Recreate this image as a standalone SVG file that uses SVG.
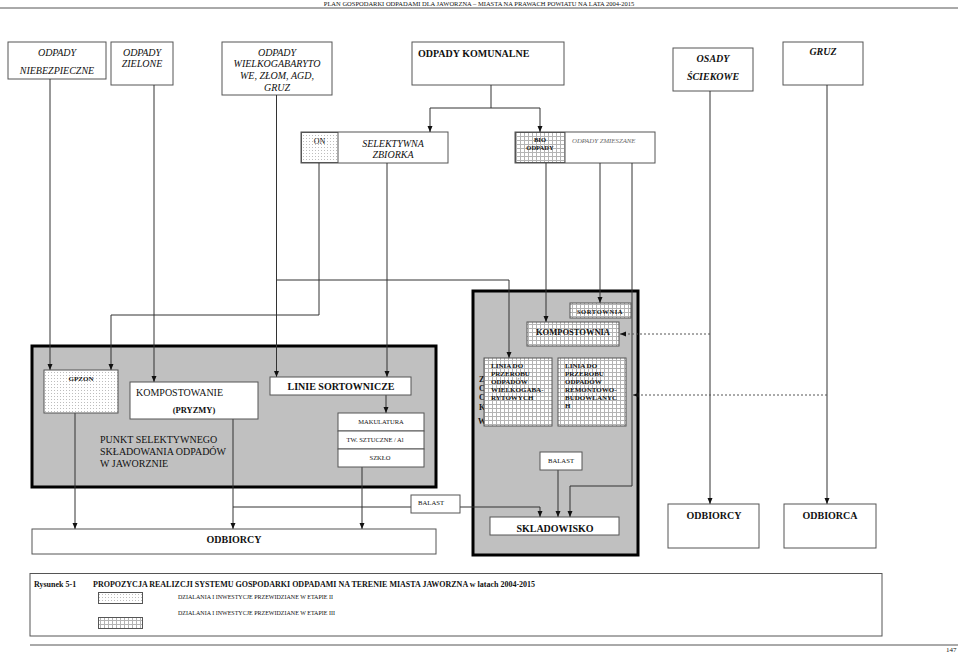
<svg xmlns="http://www.w3.org/2000/svg" width="960" height="655" viewBox="0 0 960 655">
<style>
text{font-family:"Liberation Serif","Times New Roman",serif;fill:#111}
.box{fill:#fff;stroke:#555;stroke-width:1}
.gbox{fill:#c0c0c0;stroke:#000;stroke-width:3}
.ln{fill:none;stroke:#333;stroke-width:1}
.ar{fill:none;stroke:#333;stroke-width:1;marker-end:url(#ah)}
.dash{fill:none;stroke:#555;stroke-width:1;stroke-dasharray:2,2;marker-end:url(#ah)}
.it{font-style:italic}
.b{font-weight:bold}
.c{text-anchor:middle}
</style>
<defs>
<marker id="ah" markerWidth="6" markerHeight="6" refX="6" refY="3" orient="auto" markerUnits="userSpaceOnUse"><path d="M0,0.5L6,3L0,5.5z" fill="#111"/></marker>
<pattern id="dots" width="3" height="3" patternUnits="userSpaceOnUse"><rect width="3" height="3" fill="#fff"/><rect width="1" height="1" fill="#bdbdbd"/></pattern>
<pattern id="grid" width="4" height="4" patternUnits="userSpaceOnUse"><rect width="4" height="4" fill="#fff"/><path d="M0,0.5H4M0.5,0V4" stroke="#b4b4b4" stroke-width="1"/></pattern>
</defs>
<rect width="960" height="655" fill="#fff"/>
<g id="header">
<text x="479" y="5.5" class="c" font-size="6.5">PLAN GOSPODARKI ODPADAMI DLA JAWORZNA – MIASTA NA PRAWACH POWIATU NA LATA 2004-2015</text>
<line x1="0" y1="8" x2="958" y2="8" stroke="#555" stroke-width="1"/>
</g>
<g id="n-niebezpieczne"><rect class="box" x="8" y="42" width="98" height="37"/><text class="it c" x="57" y="55.5" font-size="10">ODPADY</text><text class="it c" x="57" y="73.5" font-size="10">NIEBEZPIECZNE</text></g>
<g id="n-zielone"><rect class="box" x="111" y="42" width="62" height="43"/><text class="it c" x="142" y="55.5" font-size="10">ODPADY</text><text class="it c" x="142" y="67" font-size="10">ZIELONE</text></g>
<g id="n-wielko"><rect class="box" x="222" y="42" width="110" height="53"/><text class="it c" x="277" y="55.5" font-size="10">ODPADY</text><text class="it c" x="277" y="67" font-size="10">WIELKOGABARYTO</text><text class="it c" x="277" y="78.5" font-size="10">WE, ZŁOM, AGD,</text><text class="it c" x="277" y="90.5" font-size="10">GRUZ</text></g>
<g id="n-komunalne"><rect class="box" x="412" y="42" width="152" height="43"/><text class="b" x="418" y="57" font-size="10">ODPADY KOMUNALNE</text></g>
<g id="n-osady"><rect class="box" x="673" y="48" width="80" height="43"/><text class="b it c" x="713" y="62" font-size="10">OSADY</text><text class="b it c" x="713" y="80" font-size="10">ŚCIEKOWE</text></g>
<g id="n-gruz"><rect class="box" x="783" y="42" width="80" height="43"/><text class="b it c" x="823" y="55" font-size="10">GRUZ</text></g>
<g id="n-selektywna"><rect class="box" x="301" y="132" width="147" height="31"/><rect x="301.5" y="132.5" width="36.5" height="30" fill="url(#dots)" stroke="#555"/><text class="c" x="319.5" y="143.5" font-size="8">ON</text><text class="it c" x="393" y="147" font-size="10">SELEKTYWNA</text><text class="it c" x="393" y="157.5" font-size="10">ZBIORKA</text></g>
<g id="n-bio"><rect class="box" x="515" y="132" width="140" height="31"/><rect x="515.5" y="132.5" width="49.5" height="30" fill="url(#grid)" stroke="#555"/><text class="b c" x="540" y="142" font-size="6.5">BIO</text><text class="b c" x="540" y="150" font-size="6.5">ODPADY</text><text class="it" x="572" y="143" font-size="6.8" style="fill:#666">ODPADY ZMIESZANE</text></g>
<g id="n-punkt"><rect class="gbox" x="32" y="346" width="404" height="141"/><text x="100" y="443" font-size="10">PUNKT SELEKTYWNEGO</text><text x="100" y="455" font-size="10">SKŁADOWANIA ODPADÓW</text><text x="100" y="466.5" font-size="10">W JAWORZNIE</text></g>
<g id="n-zaklad"><rect class="gbox" x="473" y="291" width="165" height="264"/><text class="b" x="479" y="382" font-size="8">Z</text><text class="b" x="479" y="391" font-size="8">C</text><text class="b" x="479" y="399.5" font-size="8">C</text><text class="b" x="479" y="410" font-size="8">K</text><text class="b" x="478" y="424" font-size="8">W</text></g>
<g id="connectors">
<path class="ar" d="M50,79V370"/>
<path class="ar" d="M154,85V382"/>
<path class="ar" d="M276.5,95V377"/>
<path class="ar" d="M276.5,280H509V358"/>
<path class="ln" d="M491,85V108M430,108H540"/>
<path class="ar" d="M430,108V132"/>
<path class="ar" d="M540,108V132"/>
<path class="ar" d="M319,163V315H111V370"/>
<path class="ar" d="M387,163V377"/>
<path class="ar" d="M546,163V322"/>
<path class="ar" d="M600,163V303"/>
<path class="ar" d="M632,163V486H570V517"/>
<path class="ar" d="M710,91V504"/>
<path class="ar" d="M827,85V504"/>
<path class="dash" d="M710,334H620"/>
<path class="dash" d="M827,395H633"/>
<path class="ar" d="M386,395V413"/>
<path class="ar" d="M75,413V529"/>
<path class="ar" d="M233,419V529"/>
<path class="ar" d="M362,467V529"/>
<path class="ln" d="M233,507H411"/>
<path class="ar" d="M460,507H540V517"/>
<path class="ar" d="M558,470V517"/>
</g>
<g id="n-gpzon"><rect x="44" y="370" width="74" height="43" fill="url(#dots)" stroke="#555"/><text class="b c" x="81" y="380.5" font-size="7">GPZON</text></g>
<g id="n-kompostowanie"><rect class="box" x="130" y="382" width="128" height="37"/><text x="136" y="396" font-size="10">KOMPOSTOWANIE</text><text class="b c" x="194" y="413" font-size="8.5">(PRYZMY)</text></g>
<g id="n-linie"><rect class="box" x="270" y="377" width="141" height="18"/><text class="b c" x="341" y="390" font-size="10">LINIE SORTOWNICZE</text></g>
<g id="n-surowce"><rect class="box" x="338" y="413" width="86" height="18"/><rect class="box" x="338" y="431" width="86" height="18"/><rect class="box" x="338" y="449" width="86" height="18"/><text class="c" x="381" y="423.5" font-size="6.5">MAKULATURA</text><text class="c" x="375" y="442" font-size="6.5">TW. SZTUCZNE / Al</text><text class="c" x="380" y="460" font-size="6.5">SZKŁO</text></g>
<g id="n-sortownia"><rect x="570" y="303" width="61" height="15" fill="url(#grid)" stroke="#555"/><text class="b c" x="600" y="314" font-size="6.5" letter-spacing="0.6">SORTOWNIA</text></g>
<g id="n-kompostownia"><rect x="527" y="322" width="92" height="24" fill="url(#grid)" stroke="#555"/><text class="b c" x="573" y="334.5" font-size="8.5">KOMPOSTOWNIA</text></g>
<g id="n-linia1"><rect x="484" y="358" width="68" height="68" fill="url(#grid)" stroke="#555"/><text class="b" x="491" y="367.5" font-size="7">LINIA DO</text><text class="b" x="491" y="375.5" font-size="7">PRZEROBU</text><text class="b" x="491" y="383.5" font-size="7">ODPADÓW</text><text class="b" x="491" y="391.5" font-size="7">WIELKOGABA-</text><text class="b" x="491" y="399.5" font-size="7">RYTOWYCH</text></g>
<g id="n-linia2"><rect x="558" y="358" width="68" height="68" fill="url(#grid)" stroke="#555"/><text class="b" x="565" y="367.5" font-size="7">LINIA DO</text><text class="b" x="565" y="375.5" font-size="7">PRZEROBU</text><text class="b" x="565" y="383.5" font-size="7">ODPADÓW</text><text class="b" x="565" y="391.5" font-size="7">REMONTOWO-</text><text class="b" x="565" y="399.5" font-size="7">BUDOWLANYC</text><text class="b" x="565" y="407.5" font-size="7">H</text></g>
<g id="n-balast-in"><rect class="box" x="540" y="452" width="42" height="18"/><text class="c" x="561" y="463" font-size="6.7">BALAST</text></g>
<g id="n-balast-out"><rect class="box" x="411" y="495" width="49" height="18"/><text x="418" y="504.5" font-size="6.7">BALAST</text></g>
<g id="n-skladowisko"><rect class="box" x="490" y="517" width="129" height="18"/><text class="b c" x="555" y="531.5" font-size="10">SKLADOWISKO</text></g>
<g id="n-odbiorcy1"><rect class="box" x="32" y="529" width="404" height="25"/><text class="b c" x="234" y="543" font-size="10">ODBIORCY</text></g>
<g id="n-odbiorcy2"><rect class="box" x="668" y="504" width="91" height="44"/><text class="b c" x="714" y="518.5" font-size="10">ODBIORCY</text></g>
<g id="n-odbiorca"><rect class="box" x="784" y="504" width="92" height="44"/><text class="b c" x="830" y="518.5" font-size="10">ODBIORCA</text></g>
<g id="legend">
<rect x="30" y="573.5" width="852" height="62.5" fill="none" stroke="#555"/>
<text class="b" x="34" y="586.5" font-size="8">Rysunek 5-1</text>
<text class="b" x="93" y="586.5" font-size="8">PROPOZYCJA REALIZCJI SYSTEMU GOSPODARKI ODPADAMI NA TERENIE MIASTA JAWORZNA w latach 2004-2015</text>
<rect x="98.5" y="592.5" width="44" height="11" fill="url(#dots)" stroke="#555"/>
<text x="178" y="599" font-size="6">DZIALANIA I INWESTYCJE PRZEWIDZIANE W ETAPIE II</text>
<text x="178" y="615" font-size="6">DZIALANIA I INWESTYCJE PRZEWIDZIANE W ETAPIE III</text>
<rect x="98.5" y="617.5" width="44" height="11" fill="url(#grid)" stroke="#555"/>
</g>
<g id="footer">
<line x1="30" y1="645" x2="958" y2="645" stroke="#555"/>
<text x="946" y="652" font-size="7">147</text>
</g>
</svg>
